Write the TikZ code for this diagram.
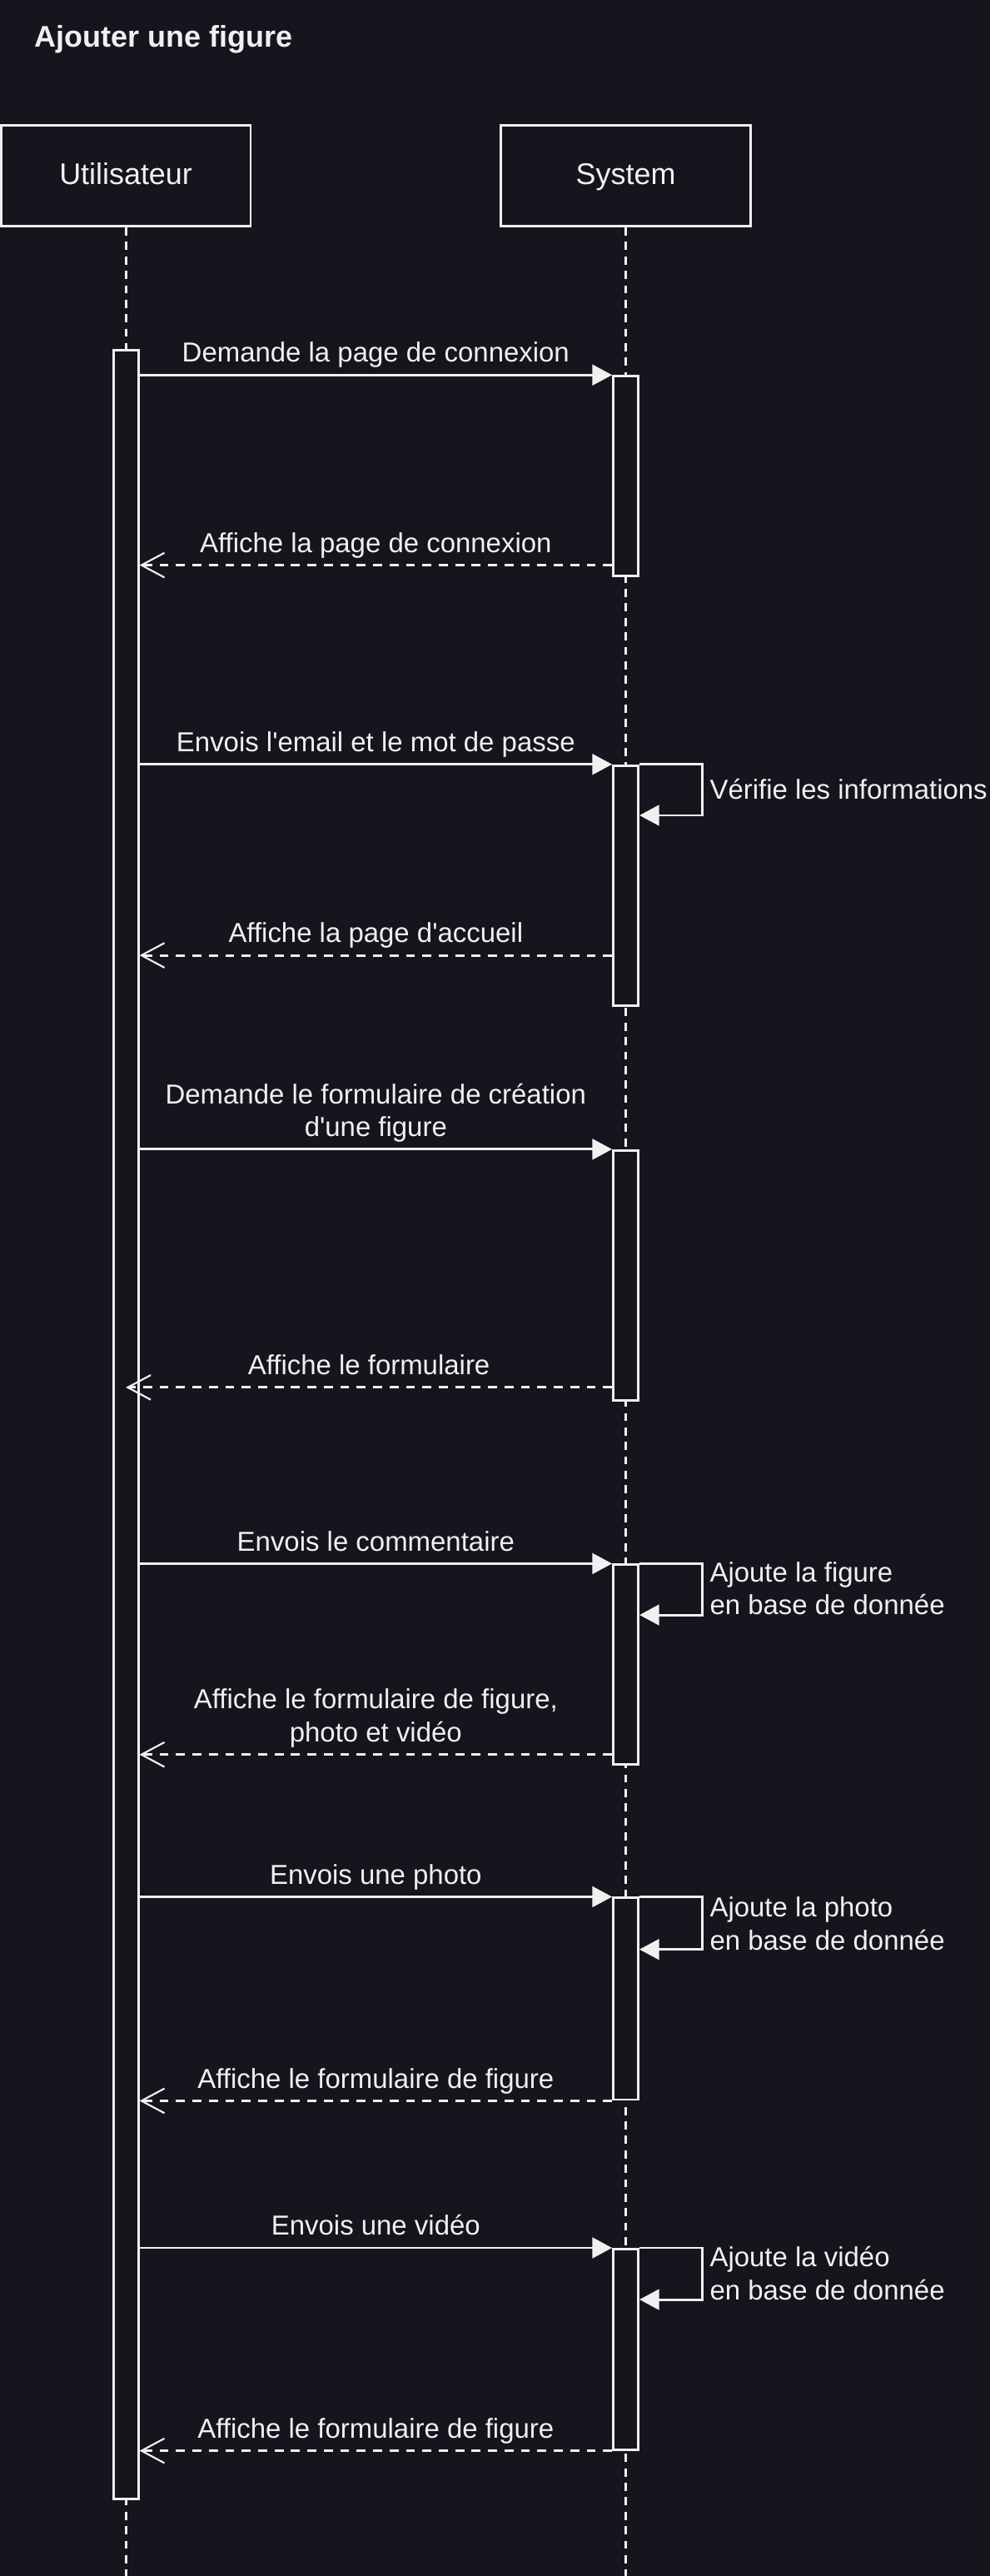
\documentclass[tikz,border=0pt]{standalone}
\usepackage{fontspec}
\newfontfamily\lsans{Liberation Sans}
\usetikzlibrary{arrows.meta}
\definecolor{bg}{HTML}{18141D}
\definecolor{fg}{HTML}{F0F0F0}
\begin{document}
\begin{tikzpicture}[x=1pt,y=-1pt,
  every node/.style={text=fg, font=\lsans\fontsize{16.7}{20}\selectfont},
  actor/.style={draw=fg, line width=1.5pt, fill=bg, minimum width=152pt, minimum height=61.3pt, inner sep=0pt, text height=13.2pt, text depth=3.2pt, font=\lsans\fontsize{18.2}{22}\selectfont},
  lifeline/.style={draw=fg, line width=1.5pt, dash pattern=on 5pt off 3.8pt},
  actbar/.style={draw=fg, line width=1.5pt, fill=bg, minimum width=15.2pt, inner sep=0pt},
  msg/.style={draw=fg, line width=1.5pt, -{Triangle[length=12pt,width=12.5pt]}},
  ret/.style={draw=fg, line width=1.5pt, dash pattern=on 5.5pt off 4.5pt, -{Straight Barb[length=14pt,width=15pt,line width=1.1pt]}},
  lbl/.style={midway, anchor=south, inner sep=0pt, text depth=0pt, align=center, yshift=7pt},
  selflbl/.style={anchor=south west, inner sep=0pt, text depth=0pt, align=left},
]
\useasboundingbox (0,0) rectangle (602.26,1568);
\fill[bg] (-10,-10) rectangle (615,1580);

% title
\node[anchor=base west, inner sep=0pt, font=\lsans\bfseries\fontsize{18.2}{22}\selectfont] (title) at (21,28.7) {Ajouter une figure};

% actors
\node[actor] (user) at (76.6,107.05) {Utilisateur};
\node[actor] (sys) at (381,107.05) {System};
\coordinate (bottom) at (0,1568);

% lifelines
\draw[lifeline] (user.south) -- (user.south |- bottom);
\draw[lifeline] (sys.south) -- (sys.south |- bottom);

% activation bars
\node[actbar, minimum height=1307.6pt] (ub) at (76.6,867.2) {};
\node[actbar, minimum height=121.5pt] (a1) at (381,289.75) {};
\node[actbar, minimum height=146pt] (a2) at (381,539) {};
\node[actbar, minimum height=152pt] (a3) at (381,776.3) {};
\node[actbar, minimum height=121.7pt] (a4) at (381,1013.35) {};
\node[actbar, minimum height=122.7pt] (a5) at (381,1216.65) {};
\node[actbar, minimum height=122pt] (a6) at (381,1430) {};

% y levels
\coordinate (r1) at (0,344);
\coordinate (r2) at (0,581.5);
\coordinate (r3) at (0,844.5);
\coordinate (r4) at (0,1068);
\coordinate (q2) at (0,496.3);
\coordinate (q4) at (0,983);
\coordinate (q5) at (0,1186.6);
\coordinate (q6) at (0,1399.7);

% 1
\draw[msg] (ub.east |- a1.north) -- (a1.north west) node[lbl] {Demande la page de connexion};
\draw[ret] (a1.west |- r1) -- (ub.east |- r1) node[lbl] {Affiche la page de connexion};

% 2
\draw[msg] (ub.east |- a2.north) -- (a2.north west) node[lbl] {Envois l'email et le mot de passe};
\draw[msg] (a2.north east) -- ++(38.3,0) |- (a2.east |- q2);
\node[selflbl] (v2) at (432,486.8) {Vérifie les informations};
\draw[ret] (a2.west |- r2) -- (ub.east |- r2) node[lbl] {Affiche la page d'accueil};

% 3
\draw[msg] (ub.east |- a3.north) -- (a3.north west) node[lbl] {Demande le formulaire de création\\d'une figure};
\draw[ret] (a3.west |- r3) -- (ub.center |- r3) node[lbl] {Affiche le formulaire};

% 4
\draw[msg] (ub.east |- a4.north) -- (a4.north west) node[lbl] {Envois le commentaire};
\draw[msg] (a4.north east) -- ++(38.3,0) |- (a4.east |- q4);
\node[selflbl] (v4) at (432,983) {Ajoute la figure\\en base de donnée};
\draw[ret] (a4.west |- r4) -- (ub.east |- r4) node[lbl] {Affiche le formulaire de figure,\\photo et vidéo};

% 5
\draw[msg] (ub.east |- a5.north) -- (a5.north west) node[lbl] {Envois une photo};
\draw[msg] (a5.north east) -- ++(38.3,0) |- (a5.east |- q5);
\node[selflbl] (v5) at (432,1187) {Ajoute la photo\\en base de donnée};
\draw[ret] (a5.south west) -- (ub.east |- a5.south) node[lbl] {Affiche le formulaire de figure};

% 6
\draw[msg] (ub.east |- a6.north) -- (a6.north west) node[lbl] {Envois une vidéo};
\draw[msg] (a6.north east) -- ++(38.3,0) |- (a6.east |- q6);
\node[selflbl] (v6) at (432,1400) {Ajoute la vidéo\\en base de donnée};
\draw[ret] (a6.south west) -- (ub.east |- a6.south) node[lbl] {Affiche le formulaire de figure};
\end{tikzpicture}
\end{document}
